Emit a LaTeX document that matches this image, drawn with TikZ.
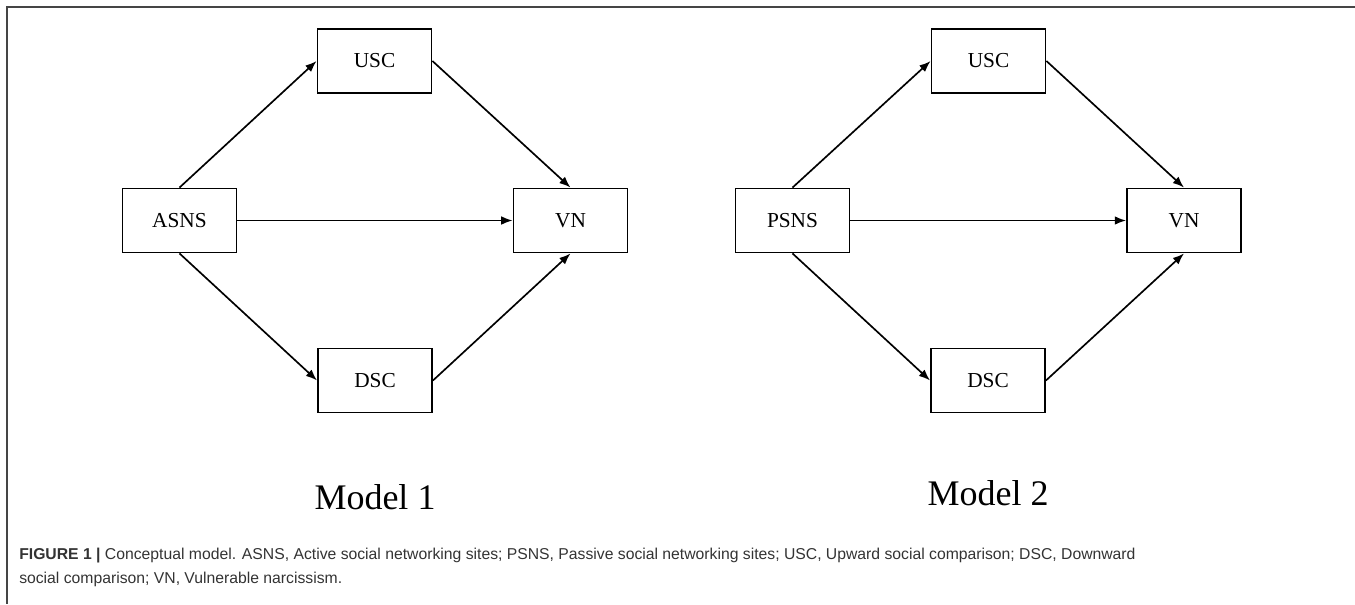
\documentclass[tikz,border=0pt]{standalone}
\usepackage{fontspec}
\setmainfont{Liberation Serif}
\newfontfamily\capfont{Liberation Sans}
\usetikzlibrary{arrows.meta}
\definecolor{framegray}{rgb}{0.27,0.27,0.27}
\definecolor{captext}{rgb}{0.2,0.2,0.2}
\tikzstyle{box}=[draw,line width=1.4pt,rectangle,minimum width=85.5pt,minimum height=48pt,inner sep=0pt,font=\fontsize{16}{18}\selectfont]
\tikzstyle{model}=[font=\fontsize{27}{30}\selectfont,inner sep=0pt]
\tikzstyle{caption}=[captext,font=\capfont\fontsize{11.8}{14}\selectfont,inner sep=0pt,anchor=base west]
\tikzstyle{link}=[->,line width=1.25pt]

\begin{document}
\begin{tikzpicture}[x=0.75pt,y=-0.75pt,>={Latex[length=8.5pt,width=6.5pt]}]
		\useasboundingbox (0,0) rectangle (1355,604);
		\draw[framegray,line width=1.5pt] (1355,7) -- (7,7) -- (7,604);

		\node[box](asns) at (179.5,220.5){ASNS};
		\node[box](usc1) at (374.5,61){USC};
		\node[box](dsc1) at (375,380.5){DSC};
		\node[box](vn1) at (570.5,220.5){VN};

		\node[box](psns) at (792.5,220.5){PSNS};
		\node[box](usc2) at (988.5,61){USC};
		\node[box](dsc2) at (988,380.5){DSC};
		\node[box](vn2) at (1184,220.5){VN};
% model 1
		\draw[link] (asns.north) -- (usc1.west);
		\draw[link] (asns.east) -- (vn1.west);
		\draw[link] (asns.south) -- (dsc1.west);
		\draw[link] (usc1.east) -- (vn1.north);
		\draw[link] (dsc1.east) -- (vn1.south);
% model 2
		\draw[link] (psns.north) -- (usc2.west);
		\draw[link] (psns.east) -- (vn2.west);
		\draw[link] (psns.south) -- (dsc2.west);
		\draw[link] (usc2.east) -- (vn2.north);
		\draw[link] (dsc2.east) -- (vn2.south);

		\node[model](m1) at (375,497){Model 1};
		\node[model](m2) at (988,493){Model 2};

		\node[caption](cap1) at (19,559){\textbf{FIGURE 1 |} Conceptual model. ASNS, Active social networking sites; PSNS, Passive social networking sites; USC, Upward social comparison; DSC, Downward};
		\node[caption](cap2) at (19,583){social comparison; VN, Vulnerable narcissism.};
	\end{tikzpicture}
\end{document}
